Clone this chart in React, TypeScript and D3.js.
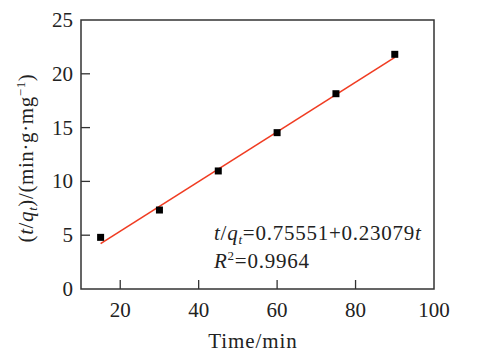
import React from "react";
import * as d3 from "d3";

const times = [15, 30, 45, 60, 75, 90];
const values = [4.8, 7.34, 10.97, 14.53, 18.15, 21.81];
const xTicks = [20, 40, 60, 80, 100];
const yTicks = [0, 5, 10, 15, 20, 25];
const fitIntercept = 0.75551;
const fitSlope = 0.23079;

const W = 477;
const H = 359;
const M = { left: 81, right: 434, top: 20, bottom: 289 };
const FONT = "Liberation Serif, DejaVu Serif, serif";

export default function App() {
  const x = d3.scaleLinear().domain([10, 100]).range([M.left, M.right]);
  const y = d3.scaleLinear().domain([0, 25]).range([M.bottom, M.top]);
  const fitX = [times[0], times[times.length - 1]];
  const line = d3
    .line<number>()
    .x((d) => x(d))
    .y((d) => y(fitIntercept + fitSlope * d));
  const tickLen = 9;
  const fs = 21;
  return (
    <svg
      width={W}
      height={H}
      style={{ position: "absolute", left: 0, top: 0, background: "#fff", fontFamily: FONT }}
    >
      <rect
        x={M.left}
        y={M.top}
        width={M.right - M.left}
        height={M.bottom - M.top}
        fill="none"
        stroke="#333"
        strokeWidth={1.5}
      />
      {xTicks.map((t) => (
        <g key={"x" + t}>
          {t < 100 && (
            <line x1={x(t)} x2={x(t)} y1={M.bottom} y2={M.bottom - tickLen} stroke="#333" strokeWidth={1.3} />
          )}
          <text x={x(t)} y={317} textAnchor="middle" fontSize={fs} fill="#222">
            {t}
          </text>
        </g>
      ))}
      {yTicks.map((t) => (
        <g key={"y" + t}>
          {t > 0 && t < 25 && (
            <line x1={M.left} x2={M.left + tickLen} y1={y(t)} y2={y(t)} stroke="#333" strokeWidth={1.3} />
          )}
          <text x={73} y={y(t) + 7} textAnchor="end" fontSize={fs} fill="#222">
            {t}
          </text>
        </g>
      ))}
      <path d={line(fitX) || ""} fill="none" stroke="#f03c22" strokeWidth={1.6} />
      {times.map((t, i) => (
        <rect key={"p" + i} x={x(t) - 3.5} y={y(values[i]) - 3.5} width={7} height={7} fill="#000" />
      ))}
      <text x={253} y={348} textAnchor="middle" fontSize={fs} letterSpacing={0.9} fill="#222">
        Time/min
      </text>
      <text
        transform={`translate(33,158) rotate(-90)`}
        textAnchor="middle"
        fontSize={fs}
        letterSpacing={0.6}
        fill="#222"
      >
        (<tspan fontStyle="italic">t</tspan>/<tspan fontStyle="italic">q</tspan>
        <tspan fontStyle="italic" fontSize={13} dy={4}>t</tspan>
        <tspan dy={-4}>)/(min·g·mg</tspan>
        <tspan fontSize={13} dy={-8}>−1</tspan>
        <tspan dy={8}>)</tspan>
      </text>
      <text x={214} y={240} fontSize={fs} letterSpacing={0.75} fill="#222">
        <tspan fontStyle="italic">t</tspan>/<tspan fontStyle="italic">q</tspan>
        <tspan fontStyle="italic" fontSize={13} dy={4}>t</tspan>
        <tspan dy={-4}>=0.75551+0.23079</tspan>
        <tspan fontStyle="italic">t</tspan>
      </text>
      <text x={214} y={268} fontSize={fs} letterSpacing={0.75} fill="#222">
        <tspan fontStyle="italic">R</tspan>
        <tspan fontSize={13} dy={-8}>2</tspan>
        <tspan dy={8}>=0.9964</tspan>
      </text>
    </svg>
  );
}
